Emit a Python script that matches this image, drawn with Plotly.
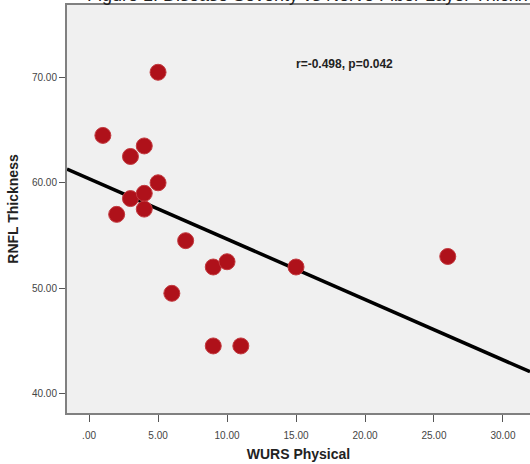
import numpy as np
import plotly.graph_objects as go

# Data
wurs_physical = [1, 5, 3, 4, 5, 3, 4, 4, 2, 7, 9, 10, 15, 6, 9, 11, 26]
rnfl_thickness = [64.5, 70.5, 62.5, 63.5, 60.0, 58.5, 59.0, 57.5, 57.0, 54.5,
                  52.0, 52.5, 52.0, 49.5, 44.5, 44.5, 53.0]
x_tick_vals = [0, 5, 10, 15, 20, 25, 30]
x_tick_text = [".00", "5.00", "10.00", "15.00", "20.00", "25.00", "30.00"]
y_tick_vals = [40, 50, 60, 70]
y_tick_text = ["40.00", "50.00", "60.00", "70.00"]

x_range = [-1.6, 31.96]
y_range = [38.13, 76.89]

slope, intercept = np.polyfit(wurs_physical, rnfl_thickness, 1)
fit_x = np.array(x_range)
fit_y = slope * fit_x + intercept

fig = go.Figure()
fig.add_trace(go.Scatter(
    x=fit_x, y=fit_y, mode="lines",
    line=dict(color="black", width=3.5), hoverinfo="skip", showlegend=False))
fig.add_trace(go.Scatter(
    x=wurs_physical, y=rnfl_thickness, mode="markers",
    marker=dict(size=16, color="#AF111A", line=dict(color="#C23A3F", width=1)),
    showlegend=False))

axis_font = dict(family="Liberation Sans, Arial, sans-serif", size=10, color="#444")
fig.update_layout(
    width=530, height=464,
    margin=dict(l=67, r=0, t=5, b=51),
    paper_bgcolor="white", plot_bgcolor="#F0F0F0",
    font=dict(family="Liberation Sans, Arial, sans-serif"),
    xaxis=dict(range=x_range, tickvals=x_tick_vals, ticktext=x_tick_text,
               showgrid=False, zeroline=False, showline=True, linecolor="#808080",
               linewidth=2, mirror=True, ticks="outside", ticklen=7, tickcolor="#555",
               ticklabelstandoff=5, tickfont=axis_font,
               title=dict(text="<b>WURS Physical</b>", font=dict(size=14, color="#222"),
                          standoff=9)),
    yaxis=dict(range=y_range, tickvals=y_tick_vals, ticktext=y_tick_text,
               showgrid=False, zeroline=False, showline=True, linecolor="#808080",
               linewidth=2, ticks="outside", ticklen=6, tickcolor="#555",
               tickfont=axis_font,
               title=dict(text="<b>RNFL Thickness</b>", font=dict(size=14, color="#222"),
                          standoff=10)),
    annotations=[
        dict(text="<b>r=-0.498, p=0.042</b>", x=0.6, y=0.855, xref="paper", yref="paper",
             xanchor="center", yanchor="middle", showarrow=False,
             font=dict(size=12, color="#222")),
        dict(text="Figure 1: Disease Severity vs Nerve Fiber Layer Thickness",
             x=0.038, y=1.0, xref="paper", yref="paper", xanchor="left", yanchor="bottom",
             showarrow=False, font=dict(size=18, color="#222"), yshift=-2),
    ],
)
fig.write_html(
    "out.html",
    config={"displayModeBar": False},
    post_script="document.body.style.margin='0';document.body.style.overflow='hidden';",
)
